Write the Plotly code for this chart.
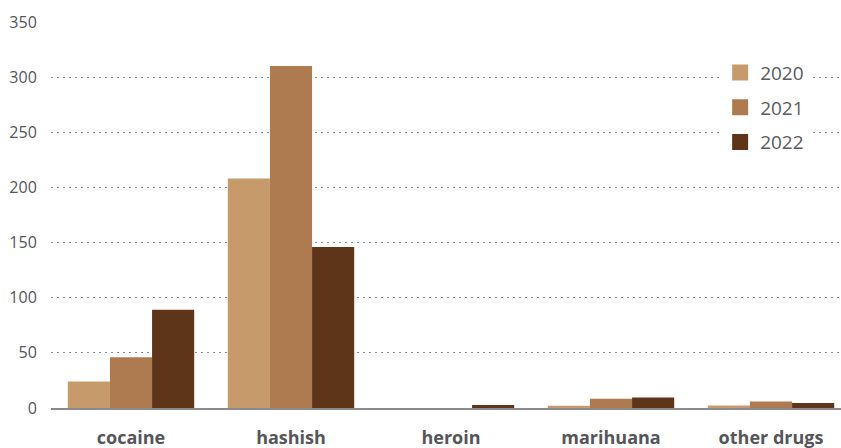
import plotly.graph_objects as go

categories = ["cocaine", "hashish", "heroin", "marihuana", "other drugs"]
years = ["2020", "2021", "2022"]
values_2020 = [24, 208, 0, 2, 2.3]
values_2021 = [46, 310, 0, 8.5, 6]
values_2022 = [89, 146, 2.7, 9.5, 4.5]
colors = ["#C69A6B", "#AD7B4F", "#5E3519"]
y_ticks = [0, 50, 100, 150, 200, 250, 300, 350]

fig = go.Figure()
for name, vals, col in zip(years, [values_2020, values_2021, values_2022], colors):
    fig.add_trace(go.Bar(x=categories, y=vals, name=name, showlegend=False,
                         marker=dict(color=col, line=dict(width=0))))
for name, col in zip(years, colors):
    fig.add_trace(go.Scatter(x=[None], y=[None], mode="markers", name=name, legendgroup=name,
                             marker=dict(symbol="square", size=20, color=col)))

fig.update_layout(
    width=841, height=448,
    margin=dict(l=51, r=0, t=22, b=40, autoexpand=False),
    paper_bgcolor="white", plot_bgcolor="white",
    barmode="group", bargap=0.21, bargroupgap=0,
    font=dict(family="Open Sans, sans-serif", color="#555"),
    legend=dict(x=0.847, y=0.918, xanchor="left", yanchor="top",
                font=dict(size=19, color="#5a5a60"), itemwidth=30,
                tracegroupgap=7, bgcolor="white"),
    xaxis=dict(range=[-0.5, 4.4375], showgrid=False, showline=True, automargin=False,
               linecolor="#8a8a8e", linewidth=2,
               ticks="outside", ticklen=12, tickcolor="rgba(0,0,0,0)",
               tickfont=dict(size=18, color="#55555a", family="Open Sans, sans-serif", weight="bold")),
    yaxis=dict(range=[0, 350], tickvals=y_ticks, showgrid=True, gridcolor="#8c8c8c", automargin=False,
               griddash="2px,4px", gridwidth=1, zeroline=False, showline=False,
               ticks="outside", ticklen=10, tickcolor="rgba(0,0,0,0)",
               tickfont=dict(size=16, color="#55555a")),
)

fig.write_html("out.html", config={"displayModeBar": False},
               post_script="document.body.style.margin='0';")
